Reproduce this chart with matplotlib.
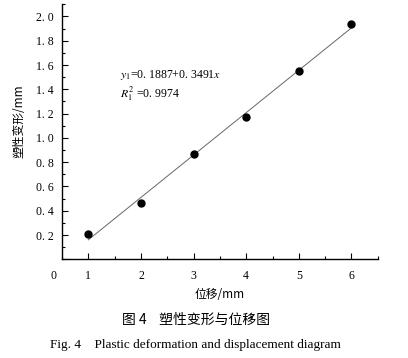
import matplotlib as mpl
import matplotlib.pyplot as plt
import numpy as np
from matplotlib.ticker import MultipleLocator, FuncFormatter

plt.rcParams['font.family'] = ['Liberation Serif', 'Noto Sans CJK SC']
plt.rcParams['mathtext.fontset'] = 'stix'

# data
displacement = [1, 2, 3, 4, 5, 6]
plastic_def = [0.21, 0.46, 0.87, 1.17, 1.55, 1.94]
eq_text = r"$y_1$=0. 1887+0. 3491$x$"
r2_text = r"$R_1^2$ =0. 9974"

fig = plt.figure(figsize=(4.08, 3.58), dpi=100)
ax = fig.add_axes([0.152, 0.2757, 0.774, 0.7123])

# linear fit line
k, b = np.polyfit(displacement, plastic_def, 1)
xs = np.array([displacement[0], displacement[-1]])
ax.plot(xs, k * xs + b, color="#666666", lw=0.7)
ax.plot(displacement, plastic_def, "o", color="black", ms=5)

ax.set_xlim(0.5, 6.5)
ax.set_ylim(0, 2.1)
ax.xaxis.set_major_locator(MultipleLocator(1))
ax.xaxis.set_minor_locator(MultipleLocator(0.5))
ax.yaxis.set_major_locator(MultipleLocator(0.2))
ax.yaxis.set_minor_locator(MultipleLocator(0.1))
ax.yaxis.set_major_formatter(FuncFormatter(
    lambda v, p: "" if v < 0.1 else f"{v:.1f}".replace(".", ". ")))
ax.xaxis.set_major_formatter(FuncFormatter(lambda v, p: f"{v:.0f}"))

for s in ["top", "right"]:
    ax.spines[s].set_visible(False)
for s in ["left", "bottom"]:
    ax.spines[s].set_linewidth(1.0)
ax.tick_params(which="both", direction="in", labelsize=8.5, width=0.8)
ax.tick_params(which="major", length=4)
ax.tick_params(which="minor", length=2)
ax.tick_params(axis="x", pad=8)
ax.tick_params(axis="y", pad=6)

# origin label at the corner
ax.annotate("0", xy=(0, 0), xycoords="axes fraction", xytext=(-6, -8),
            textcoords="offset points", ha="center", va="top", fontsize=8.5)

ax.text(1.6, 1.52, eq_text, fontsize=8.5, ha="left", va="center")
ax.text(1.6, 1.36, r2_text, fontsize=8.5, ha="left", va="center")

ax.set_xlabel("位移/mm", fontsize=8.5, labelpad=4,
              family=["Noto Sans CJK SC", "DejaVu Sans"])
ax.set_ylabel("塑性变形/mm", fontsize=8.5,
              family=["Noto Sans CJK SC", "DejaVu Sans"])
ax.yaxis.set_label_coords(-0.117, 0.54)

fig.text(0.48, 0.106, "图 4    塑性变形与位移图", ha="center", va="center",
         fontsize=10, family=["Noto Sans CJK SC", "DejaVu Sans"])
fig.text(0.48, 0.036, "Fig. 4    Plastic deformation and displacement diagram",
         ha="center", va="center", fontsize=9.5, family="Liberation Serif")

fig.savefig("out.png", dpi=100)
